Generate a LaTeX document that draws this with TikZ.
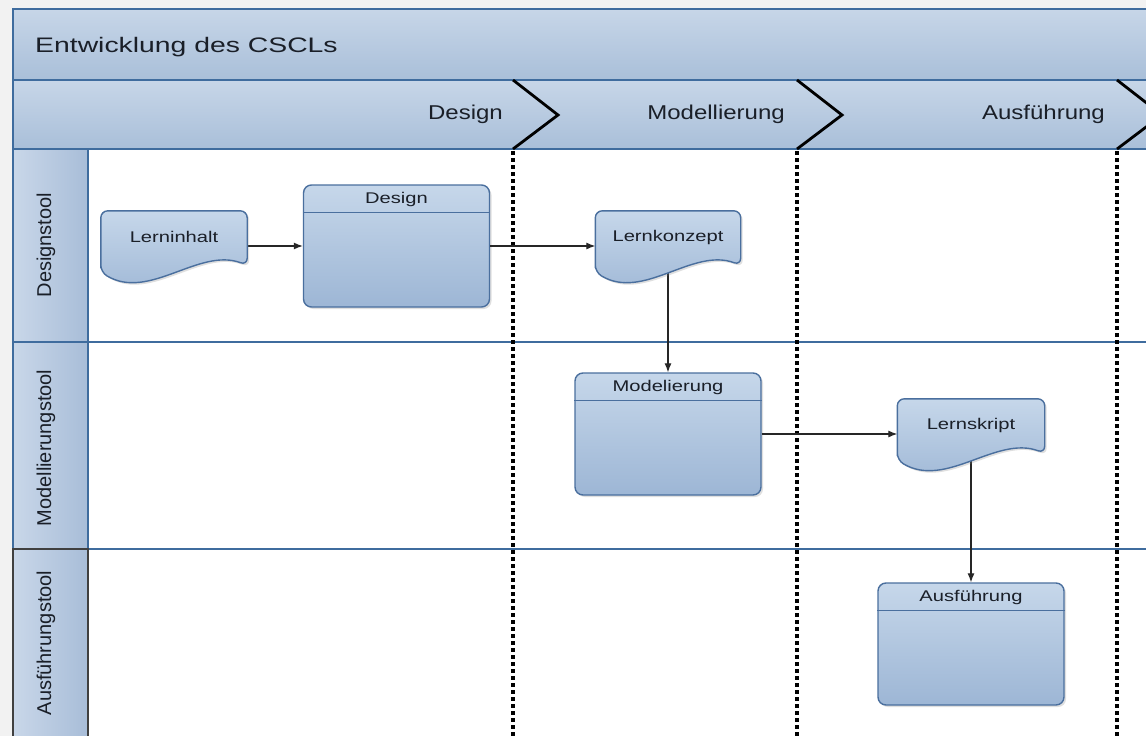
\documentclass[tikz,border=0pt]{standalone}
\usepackage{fontspec}
\usepackage{graphicx}
\setmainfont{Liberation Sans}
\usetikzlibrary{shadows,calc,arrows.meta}
\definecolor{frameblue}{HTML}{3F6C9E}
\definecolor{bandtop}{HTML}{C7D6E8}
\definecolor{bandbot}{HTML}{A9BFD9}
\definecolor{laneL}{HTML}{C9D7E9}
\definecolor{laneR}{HTML}{A8BDD8}
\definecolor{boxtop}{HTML}{C6D7EA}
\definecolor{boxbot}{HTML}{9DB6D5}
\definecolor{boxline}{HTML}{4A6F9E}
\definecolor{bggray}{HTML}{F2F2F2}
\definecolor{txt}{HTML}{1A1F28}
\newcommand\sx[2]{\scalebox{#1}[1]{#2}}
\newcommand\docshape[1]{%
  \draw[docpath] ($(#1.south west)+(0,-9)$) -- (#1.north west) -- (#1.north east) -- ($(#1.south east)+(0,-16)$)
    .. controls ($(#1.south west)!0.67!(#1.south east)+(0,-34)$) and ($(#1.south west)!0.33!(#1.south east)+(0,20)$) .. ($(#1.south west)+(0,-9)$) -- cycle;}
\begin{document}
\begin{tikzpicture}[x=1pt,y=-1pt,
  band/.style={draw=frameblue, line width=1.6, top color=bandtop, bottom color=bandbot},
  laneh/.style={draw=frameblue, line width=1.6, left color=laneL, right color=laneR},
  lanebody/.style={draw=frameblue, line width=1.6, fill=white},
  phaseline/.style={line width=3.2, dash pattern=on 3.5pt off 3.5pt, black},
  chev/.style={line width=2.8, black, line join=miter},
  procbox/.style={rectangle, rounded corners=8, draw=boxline, line width=1.4,
     top color=boxtop, bottom color=boxbot, minimum width=186, minimum height=122, inner sep=0,
     drop shadow={shadow xshift=2pt, shadow yshift=-2pt, opacity=0.25}},
  docbox/.style={rectangle, inner sep=0, minimum height=70},
  docpath/.style={draw=boxline, line width=1.4, rounded corners=7, top color=boxtop, bottom color=boxbot,
     drop shadow={shadow xshift=2pt, shadow yshift=-2pt, opacity=0.25}},
  conn/.style={draw=black!85, line width=1.1, -{Latex[length=9pt,width=7pt]}},
  titlelbl/.style={text=txt, font=\fontsize{21}{25}\selectfont, inner sep=0},
  phaselbl/.style={text=txt, font=\fontsize{20}{24}\selectfont, inner sep=0},
  lanelbl/.style={text=txt, font=\fontsize{20}{24}\selectfont, inner sep=0, rotate=90},
  boxlbl/.style={text=txt, font=\fontsize{15.5}{18}\selectfont, inner sep=0}
]
\useasboundingbox (0,0) rectangle (1146,736);
\clip (0,0) rectangle (1146,736);
\fill[bggray] (0,0) rectangle (1146,736);
% bands
\draw[band] (13,9) rectangle (1170,80);
\draw[band] (13,80) rectangle (1170,149);
\node[titlelbl, anchor=west] (title) at (35,47) {\sx{1.35}{Entwicklung des CSCLs}};
% lanes
\draw[lanebody] (88,149) rectangle (1170,342);
\draw[lanebody] (88,342) rectangle (1170,549);
\draw[lanebody] (88,549) rectangle (1170,770);
\draw[laneh] (13,149) rectangle (88,342);
\draw[laneh] (13,342) rectangle (88,549);
\draw[laneh, draw=black!75] (13,549) rectangle (88,770);
\node[lanelbl] (l1) at (46,245) {Designstool};
\node[lanelbl] (l2) at (46,448) {Modellierungstool};
\node[lanelbl] (l3) at (46,643) {Ausführungstool};
% phases
\node[phaselbl, anchor=east] (p1) at (503,114) {\sx{1.2}{Design}};
\node[phaselbl, anchor=east] (p2) at (785,114) {\sx{1.2}{Modellierung}};
\node[phaselbl, anchor=east] (p3) at (1105,114) {\sx{1.2}{Ausführung}};
\draw[chev] (513,80) -- (558,115) -- (513,149);
\draw[chev] (797,80) -- (842,115) -- (797,149);
\draw[chev] (1117,80) -- (1162,115) -- (1117,149);
\coordinate (d1t) at (513,151); \coordinate (d1b) at (513,740);
\coordinate (d2t) at (797,151); \coordinate (d2b) at (797,740);
\coordinate (d3t) at (1117,151); \coordinate (d3b) at (1117,740);
\draw[phaseline] (d1t) -- (d1b);
\draw[phaseline] (d2t) -- (d2b);
\draw[phaseline] (d3t) -- (d3b);
% process boxes
\node[procbox] (design) at (396.5,246) {};
\node[procbox] (model) at (668,434) {};
\node[procbox] (ausf) at (971,644) {};
\foreach \n in {design,model,ausf}{
  \draw[boxline, line width=1.4] ($(\n.north west)+(0,28)$) -- ($(\n.north east)+(0,28)$);
}
\node[boxlbl] (design-t) at ($(design.north)+(0,15)$) {\sx{1.3}{Design}};
\node[boxlbl] (model-t) at ($(model.north)+(0,15)$) {\sx{1.3}{Modelierung}};
\node[boxlbl] (ausf-t) at ($(ausf.north)+(0,15)$) {\sx{1.3}{Ausführung}};
% documents
\path node[docbox, minimum width=146] (lerninhalt) at (174,246) {};
\path node[docbox, minimum width=145] (lk) at (668,246) {};
\path node[docbox, minimum width=147] (ls) at (971,434) {};
% connectors
\coordinate (lk-out) at ($(lk.south)+(0,-8)$);
\coordinate (ls-out) at ($(ls.south)+(0,-8)$);
\draw[conn] (lerninhalt) -- (design);
\draw[conn] (design) -- (lk);
\draw[conn] (lk-out) -- (model);
\draw[conn] (model) -- (ls);
\draw[conn] (ls-out) -- (ausf);
\docshape{lerninhalt}
\docshape{lk}
\docshape{ls}
\node[boxlbl] (lerninhalt-t) at ($(lerninhalt.center)+(0,-9)$) {\sx{1.3}{Lerninhalt}};
\node[boxlbl] (lk-t) at ($(lk.center)+(0,-9)$) {\sx{1.3}{Lernkonzept}};
\node[boxlbl] (ls-t) at ($(ls.center)+(0,-9)$) {\sx{1.3}{Lernskript}};
\end{tikzpicture}
\end{document}
